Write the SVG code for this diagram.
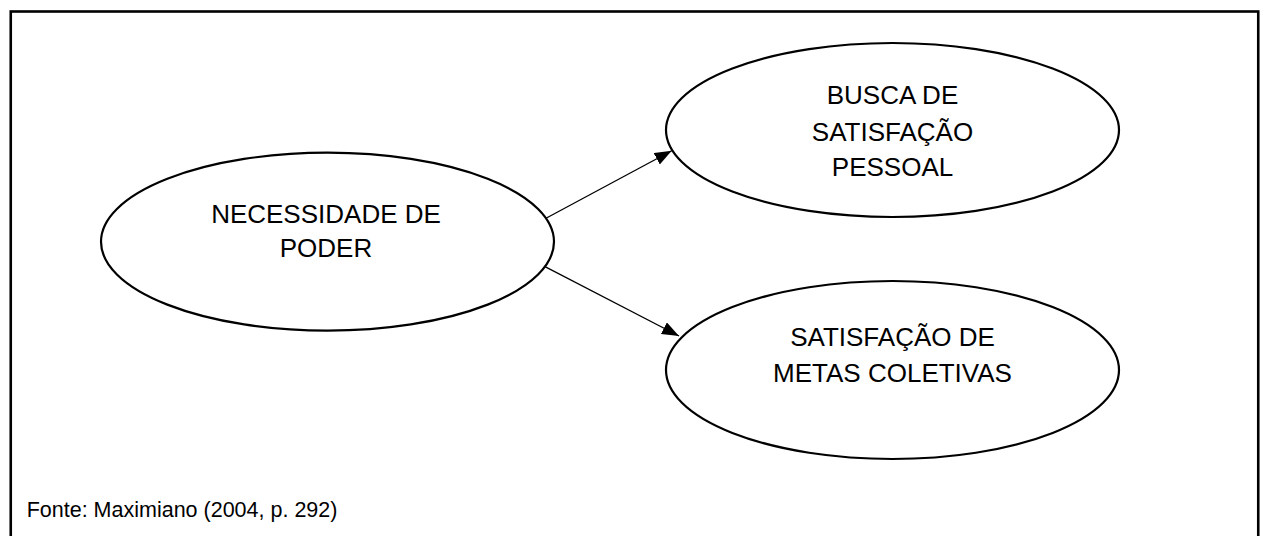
<svg xmlns="http://www.w3.org/2000/svg" width="1265" height="536" viewBox="0 0 1265 536">
<style>
.node ellipse{fill:#fff;stroke:#000;stroke-width:2.2}
text{font-family:"Liberation Sans",Arial,sans-serif;fill:#000}
.lbl{font-size:26px;text-anchor:middle}
.src{font-size:21.5px}
.conn line{stroke:#000;stroke-width:1.3}
</style>
<defs>
<marker id="arr" markerUnits="userSpaceOnUse" markerWidth="18" markerHeight="14" refX="17" refY="6.5" orient="auto">
<path d="M0,0 L17,6.5 L0,13 Z" fill="#000"/>
</marker>
</defs>
<rect x="10.75" y="11.5" width="1247.5" height="540" fill="#fff" stroke="#000" stroke-width="2.6"/>
<g class="conn" id="connectors">
<line x1="546" y1="218.3" x2="671.7" y2="150.7" marker-end="url(#arr)"/>
<line x1="545" y1="266.7" x2="679" y2="336" marker-end="url(#arr)"/>
</g>
<g class="node" id="n-poder">
<ellipse cx="327.5" cy="241.7" rx="226.5" ry="89"/>
<text class="lbl" x="326" y="222.7">NECESSIDADE DE</text>
<text class="lbl" x="326" y="256.5">PODER</text>
</g>
<g class="node" id="n-busca">
<ellipse cx="892.5" cy="130" rx="226.5" ry="87"/>
<text class="lbl" x="892.5" y="104">BUSCA DE</text>
<text class="lbl" x="892.5" y="140.5">SATISFAÇÃO</text>
<text class="lbl" x="892.5" y="176">PESSOAL</text>
</g>
<g class="node" id="n-metas">
<ellipse cx="892.5" cy="370" rx="226.5" ry="89"/>
<text class="lbl" x="892.5" y="346">SATISFAÇÃO DE</text>
<text class="lbl" x="892.5" y="381.7">METAS COLETIVAS</text>
</g>
<text class="src" x="26.7" y="516.7">Fonte: Maximiano (2004, p. 292)</text>
</svg>
